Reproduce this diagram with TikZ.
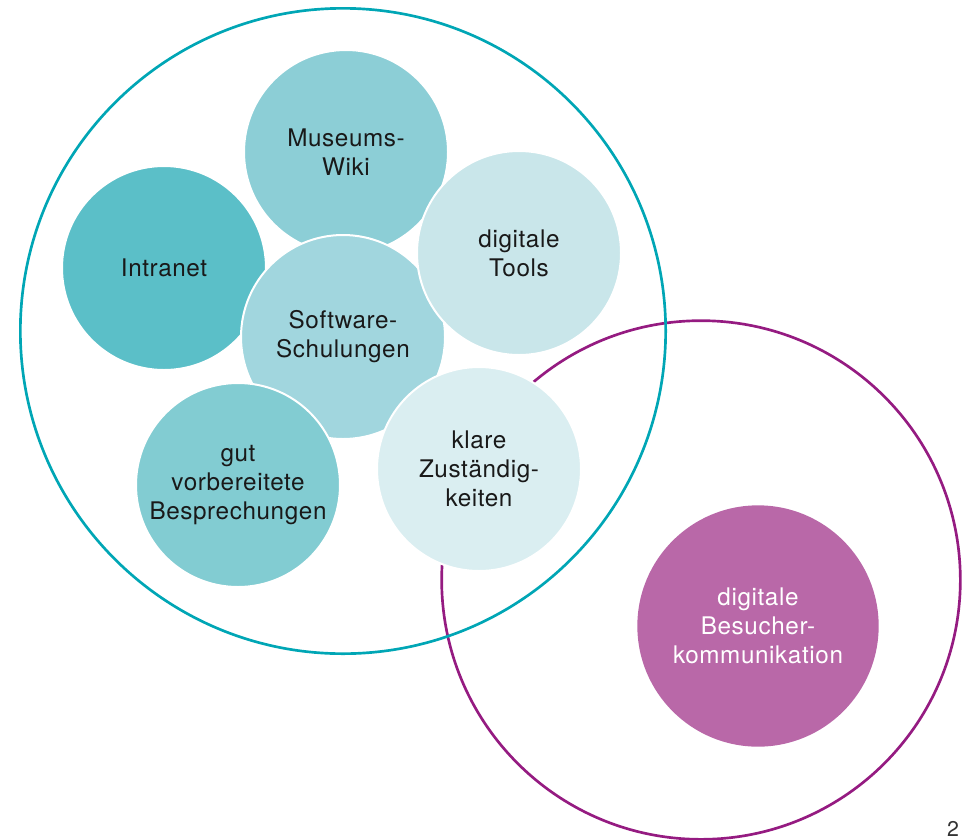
\documentclass[tikz,border=0pt]{standalone}
\usepackage{fontspec}
\setmainfont{TeX Gyre Heros}[LetterSpace=2.5]
\usepackage{tikz}
\usetikzlibrary{positioning}

\definecolor{tealring}{RGB}{0,166,181}
\definecolor{lilaring}{RGB}{149,27,129}
\definecolor{intranetfill}{RGB}{91,191,200}
\definecolor{wikifill}{RGB}{140,206,214}
\definecolor{softwarefill}{RGB}{161,214,222}
\definecolor{toolsfill}{RGB}{201,230,234}
\definecolor{gutfill}{RGB}{130,204,210}
\definecolor{klarefill}{RGB}{218,238,241}
\definecolor{besucherfill}{RGB}{185,104,168}

\begin{document}
\begin{tikzpicture}[x=0.75pt,y=0.75pt,yscale=-1,xscale=1,
  ring/.style={circle, line width=2pt, inner sep=0pt},
  bubble/.style={circle, draw=white, line width=1.5pt, minimum size=153pt, inner sep=0pt,
    align=center, text=black!90, font=\fontsize{18.2}{21.75}\selectfont}]
\useasboundingbox (0,0) rectangle (966,839);

%Shape: Circle [rings]
\node [ring, draw=lilaring, minimum size=389pt] (besucher) at (701,580) {};
\node [ring, draw=tealring, minimum size=484pt] (intern) at (343,331) {};

%Shape: Circle [bubbles]
\node [bubble, fill=wikifill] (wiki) at (346,152) {Museums-\\Wiki};
\node [bubble, fill=intranetfill] (intranet) at (164,268) {Intranet};
\node [bubble, fill=softwarefill] (software) at (343,337) {Software-\\Schulungen};
\node [bubble, fill=toolsfill] (tools) at (519,253) {digitale\\Tools};
\node [bubble, fill=gutfill] (bespr) at (238,485) {gut\\vorbereitete\\Besprechungen};
\node [bubble, fill=klarefill] (klare) at (479,469) {klare\\Zuständig-\\keiten};

%Shape: Circle [Besucherkommunikation]
\node [bubble, draw=none, fill=besucherfill, minimum size=181pt, text=white] (kommunikation) at (758,626) {digitale\\Besucher-\\kommunikation};

% Text Node
\node [anchor=base, font=\fontsize{16}{16}\selectfont, text=black!80] (seite) at (953,836) {2};

\end{tikzpicture}
\end{document}
